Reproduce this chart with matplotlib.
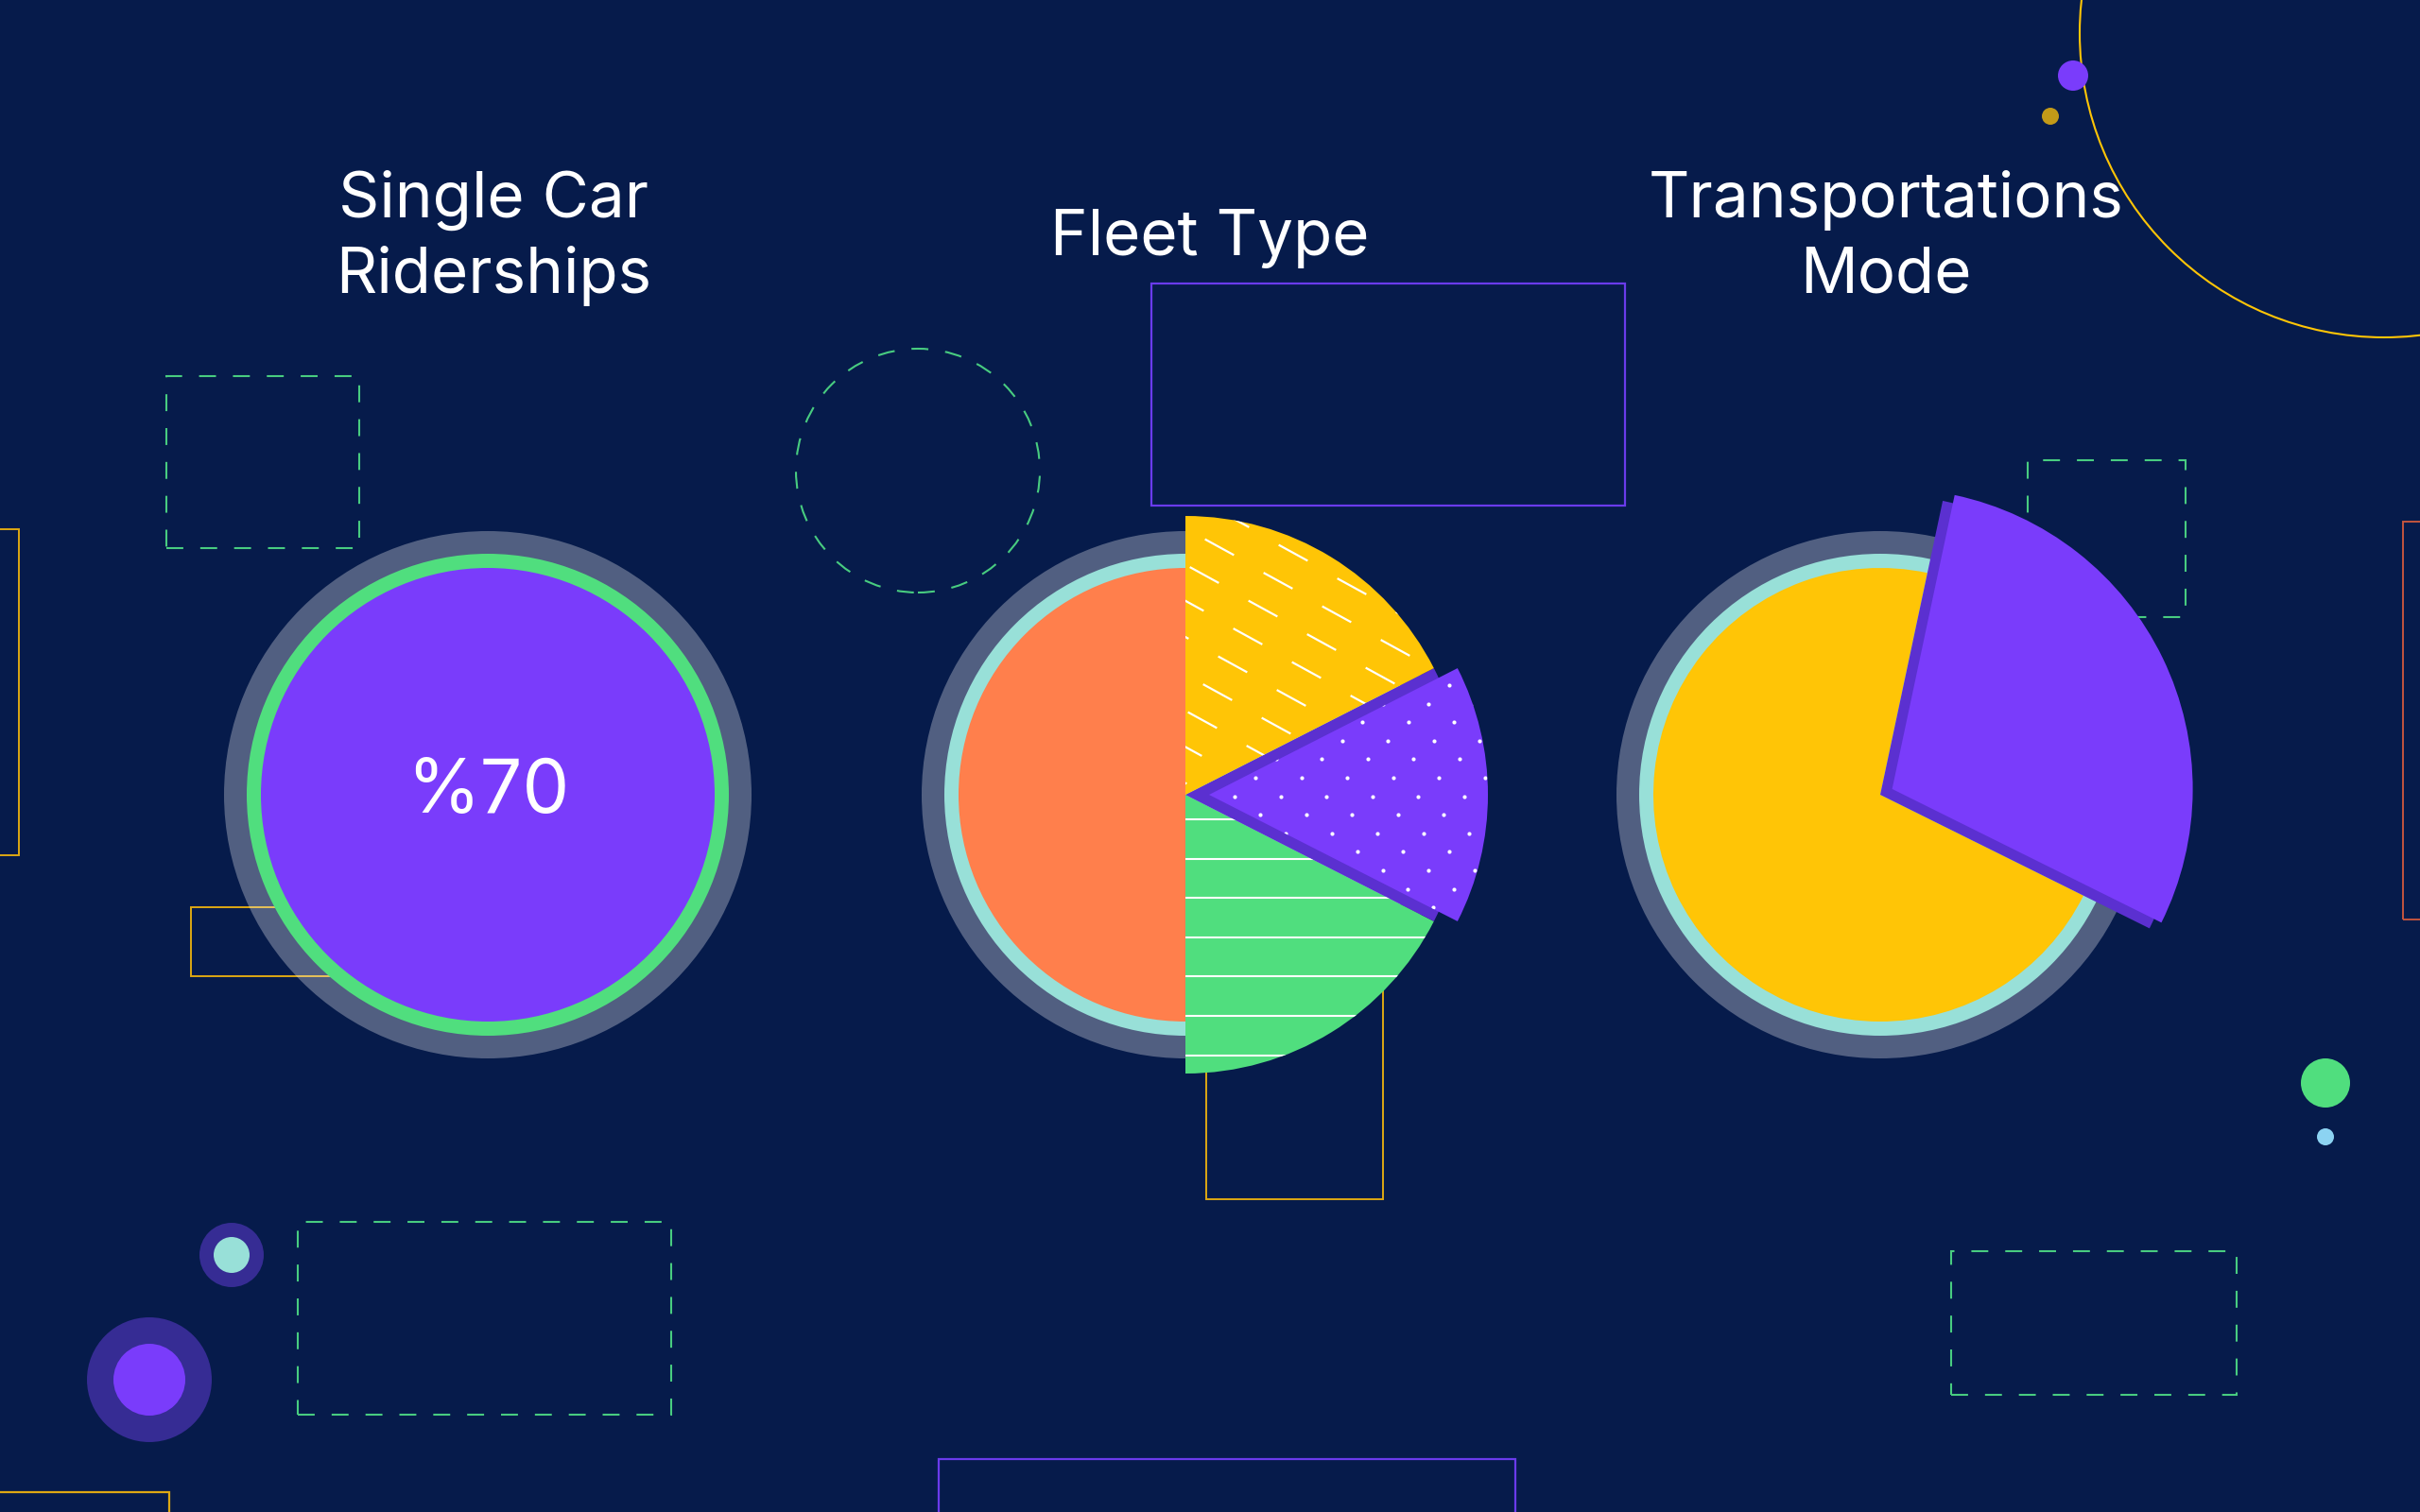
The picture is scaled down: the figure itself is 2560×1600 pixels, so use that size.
import matplotlib.pyplot as plt
import numpy as np
from matplotlib.patches import Wedge, Circle, Rectangle
from matplotlib.collections import LineCollection

W, H = 2560, 1600
BG = '#061B4B'

# --- chart data ---
titles = ["Single Car\nRiderships", "Fleet Type", "Transportations\nMode"]
single_car_share = 70
fleet_values = [50, 17.5, 15, 17.5]      # counter-clockwise from 12 o'clock
fleet_colors = ['#FF7F4C', '#50DE7E', '#7A3CFB', '#FFC506']
fleet_explode = [0, 0, 25, 0]
mode_values = [71, 29]
mode_colors = ['#FFC506', '#7A3CFB']
mode_explode = [0, 14]

plt.rcParams['font.family'] = ['Inter', 'DejaVu Sans']

fig = plt.figure(figsize=(25.6, 16), dpi=100, facecolor=BG)
ax = fig.add_axes([0, 0, 1, 1])
ax.set_xlim(0, W)
ax.set_ylim(0, H)
ax.set_aspect('equal')
ax.axis('off')
ax.set_facecolor(BG)


def up(y):
    # picture rows run downwards, the axes run upwards
    return H - y


def box(x0, y0, x1, y1, color, dashed=False, lw=1.4, z=1):
    ls = (0, (8.6, 8.6)) if dashed else '-'
    ax.add_patch(Rectangle((x0, up(y1)), x1 - x0, y1 - y0, fill=False,
                           edgecolor=color, lw=lw, ls=ls, zorder=z))


def dot(x, y, r, color, z=1):
    ax.add_patch(Circle((x, up(y)), r, color=color, lw=0, zorder=z))


GREEN_DASH = '#48CC80'
GOLD = '#DDA813'

# --- background decoration ---
box(176, 398, 380, 580, GREEN_DASH, dashed=True, lw=1.5)
box(2145, 487, 2312, 653, GREEN_DASH, dashed=True, lw=1.5)
box(315, 1293, 710, 1497, GREEN_DASH, dashed=True, lw=1.5)
box(2064, 1324, 2366, 1476, GREEN_DASH, dashed=True, lw=1.5)
ax.add_patch(Circle((971, up(498)), 129, fill=False, edgecolor=GREEN_DASH,
                    lw=1.5, ls=(0, (8.6, 8.6)), zorder=1))
box(1218, 300, 1719, 535, '#6A3BEB', lw=1.6)
box(993, 1544, 1603, 1620, '#6A3BEB', lw=1.6)
box(1276, 1000, 1463, 1269, GOLD, lw=1.4)
box(202, 960, 420, 1033, GOLD, lw=1.4)
box(-5, 560, 20, 905, GOLD, lw=1.4)
box(-5, 1579, 179, 1620, GOLD, lw=1.6)
box(2542, 552, 2570, 973, '#C4553E', lw=1.4)
ax.add_patch(Circle((2522, up(35)), 322, fill=False, edgecolor='#FFC506',
                    lw=1.5, zorder=1))
dot(2193, 80, 16, '#7A3CFB')
dot(2169, 123, 9, '#C39A18')
dot(2460, 1146, 26, '#50DE7E')
dot(2460, 1203, 9, '#8CD3F2')
dot(158, 1460, 66, '#362C94')
dot(158, 1460, 38, '#7A3CFB', z=2)
dot(245, 1328, 34, '#362C94')
dot(245, 1328, 19, '#98E0D8', z=2)

centers = [(516, 841), (1254, 841), (1989, 841)]
title_x = [522, 1280, 1995]

# base discs: translucent halo + coloured ring
ring_colors = ['#50DE7E', '#98E0D8', '#98E0D8']
for (cx, cy), rc in zip(centers, ring_colors):
    ax.add_patch(Circle((cx, up(cy)), 279, color='white', alpha=0.3, lw=0, zorder=2))
    ax.add_patch(Circle((cx, up(cy)), 255, color=rc, lw=0, zorder=3))

# --- Single Car Riderships ---
cx, cy = centers[0]
ax.add_patch(Circle((cx, up(cy)), 240, color='#7A3CFB', lw=0, zorder=4))
ax.text(cx, up(cy) + 2, f"%{single_car_share}", color='white', fontsize=57,
        ha='center', va='center', zorder=7)


def pie_wedges(values, start, radii, explode, colors, center, shade='#5B30D0'):
    cx, cy = center[0], up(center[1])
    angles = start + np.cumsum([0] + list(values)) / sum(values) * 360
    out = []
    for i, v in enumerate(values):
        t1, t2 = angles[i], angles[i + 1]
        mid = np.deg2rad((t1 + t2) / 2)
        if explode[i]:
            # shadow wedge stays put, coloured wedge slides out
            ax.add_patch(Wedge((cx, cy), radii[i], t1, t2, color=shade, lw=0, zorder=5))
            dx, dy = explode[i] * np.cos(mid), explode[i] * np.sin(mid)
        else:
            dx = dy = 0
        w = Wedge((cx + dx, cy + dy), radii[i], t1, t2, color=colors[i], lw=0, zorder=5)
        ax.add_patch(w)
        out.append((w, cx + dx, cy + dy))
    return out


# --- Fleet Type ---
fleet = pie_wedges(fleet_values, 90, [240, 295, 295, 295], fleet_explode,
                   fleet_colors, centers[1])

# green slice: horizontal white stripes
w, px, py = fleet[1]
segs = [[(px - 10, py - 26 - k * 41.6), (px + 320, py - 26 - k * 41.6)] for k in range(8)]
lc = LineCollection(segs, colors='white', linewidths=1.5, zorder=6)
ax.add_collection(lc)
lc.set_clip_path(w)

# yellow slice: short slanted dashes
w, px, py = fleet[3]
d = np.array([31.0, -17.0])
d = d / np.linalg.norm(d) * 17.5
segs = []
for i in range(-4, 13):
    for j in range(-4, 15):
        p = np.array([px + 36 + 78 * i - 16 * j, py + 262 - 6 * i - 29.5 * j])
        segs.append([p - d, p + d])
lc = LineCollection(segs, colors='white', linewidths=1.6, zorder=6)
ax.add_collection(lc)
lc.set_clip_path(w)

# purple slice: dots
w, px, py = fleet[2]
pts = []
for i in range(-12, 16):
    for j in range(-12, 22):
        pts.append((px + 254 + 48.5 * i - 21.6 * j, py + 116 - 19.6 * j))
pts = np.array(pts)
sc = ax.scatter(pts[:, 0], pts[:, 1], s=9, color='white', lw=0, zorder=6)
sc.set_clip_path(w)

# --- Transportations Mode ---
mode = pie_wedges(mode_values, 78, [240, 318], mode_explode, mode_colors, centers[2])

# --- titles ---
for t, x in zip(titles, title_x):
    ax.text(x, up(252), t, color='white', fontsize=48.5, ha='center', va='center',
            linespacing=1.33, zorder=7)

fig.savefig('out.png', dpi=100, facecolor=BG)
